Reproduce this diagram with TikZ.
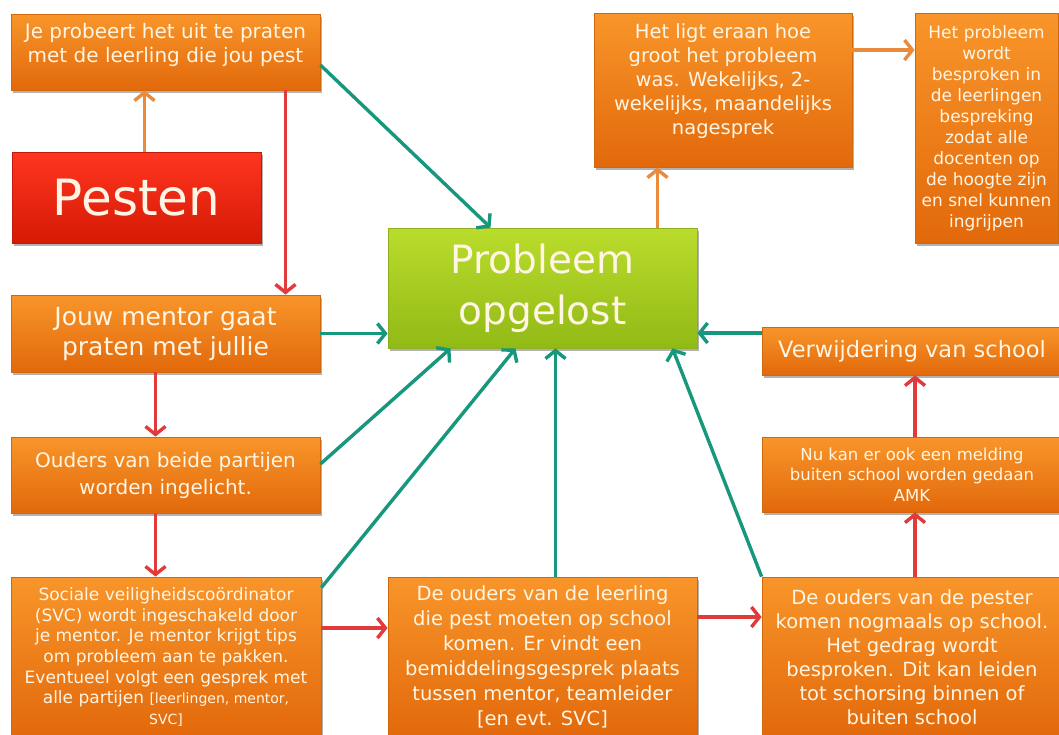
\documentclass[tikz,border=0pt]{standalone}
\usepackage{fontspec}
\setmainfont{DejaVu Sans}
\usetikzlibrary{arrows.meta,shadows}
\definecolor{otop}{HTML}{F8952A}
\definecolor{obot}{HTML}{E2690B}
\definecolor{oedge}{HTML}{D0680E}
\definecolor{gtop}{HTML}{BADC2C}
\definecolor{gbot}{HTML}{92BA16}
\definecolor{gedge}{HTML}{8CB020}
\definecolor{rtop}{HTML}{FF3520}
\definecolor{rbot}{HTML}{D51A05}
\definecolor{redge}{HTML}{C01A08}
\definecolor{txtc}{HTML}{FFF5E4}
\definecolor{teal}{HTML}{17977B}
\definecolor{rarr}{HTML}{E03A3A}
\definecolor{oarr}{HTML}{E98A3C}
\tikzset{
  basebox/.style={rectangle, inner sep=0pt, align=center, text=txtc, line width=0.8pt,
    drop shadow={shadow xshift=2pt, shadow yshift=-3pt, opacity=0.3, fill=black}},
  obox/.style={basebox, top color=otop, bottom color=obot, draw=oedge},
  gbox/.style={basebox, top color=gtop, bottom color=gbot, draw=gedge},
  rbox/.style={basebox, top color=rtop, bottom color=rbot, draw=redge},
  otext/.style={inner sep=0pt, align=center, text=txtc},
  conn/.style={line width=3.4pt, -{Straight Barb[length=8pt,width=20pt]}},
  tealarr/.style={conn, draw=teal},
  redarr/.style={conn, draw=rarr},
  orarr/.style={conn, draw=oarr}
}
\newcommand{\fs}[2]{\fontsize{#1}{#2}\selectfont}
\begin{document}
\begin{tikzpicture}[x=1pt,y=-1pt]
\useasboundingbox (0,0) rectangle (1059,734);
\fill[white] (0,0) rectangle (1059,734);

% boxes
\node[obox, minimum width=309pt, minimum height=76pt] (A) at (165.5,52) {};
\node[otext, font=\fs{20}{24}] (Atxt) at (165.5,45) {Je probeert het uit te praten\\met de leerling die jou pest};
\node[rbox, minimum width=249pt, minimum height=91pt, font=\fs{50}{54}] (P) at (136.5,197.5) {Pesten};
\node[obox, minimum width=309pt, minimum height=77pt, font=\fs{25}{30}] (B) at (165.5,333.5) {Jouw mentor gaat\\praten met jullie};
\node[obox, minimum width=309pt, minimum height=76pt, font=\fs{20}{27}] (C) at (165.5,475) {Ouders van beide partijen\\worden ingelicht.};
\node[obox, minimum width=310pt, minimum height=160pt, font=\fs{17}{20.7}] (D) at (166,657) {Sociale veiligheidscoördinator\\(SVC) wordt ingeschakeld door\\je mentor. Je mentor krijgt tips\\om probleem aan te pakken.\\Eventueel volgt een gesprek met\\alle partijen {\fs{14}{20.7}[leerlingen, mentor,}\\{\fs{14}{20.7}SVC]}};
\node[obox, minimum width=309pt, minimum height=160pt, font=\fs{19.5}{25}] (E) at (542.5,657) {De ouders van de leerling\\die pest moeten op school\\komen. Er vindt een\\bemiddelingsgesprek plaats\\tussen mentor, teamleider\\{[en evt. SVC]}};
\node[obox, minimum width=300pt, minimum height=160pt, font=\fs{19.5}{24}] (F) at (912,657) {De ouders van de pester\\komen nogmaals op school.\\Het gedrag wordt\\besproken. Dit kan leiden\\tot schorsing binnen of\\buiten school};
\node[obox, minimum width=300pt, minimum height=75pt, font=\fs{16.5}{20.5}] (G) at (912,474.5) {Nu kan er ook een melding\\buiten school worden gedaan\\AMK};
\node[obox, minimum width=300pt, minimum height=48pt, font=\fs{22.5}{26}] (H) at (912,351) {Verwijdering van school};
\node[gbox, minimum width=309pt, minimum height=120pt, font=\fs{39}{51}] (Gr) at (542.5,288) {Probleem\\opgelost};
\node[obox, minimum width=258pt, minimum height=154pt] (I) at (723,90) {};
\node[otext, font=\fs{19.5}{24}] (Itxt) at (723,81) {Het ligt eraan hoe\\groot het probleem\\was. Wekelijks, 2-\\wekelijks, maandelijks\\nagesprek};
\node[obox, minimum width=143pt, minimum height=230pt, font=\fs{17}{21}] (J) at (986.5,128) {Het probleem\\wordt\\besproken in\\de leerlingen\\bespreking\\zodat alle\\docenten op\\de hoogte zijn\\en snel kunnen\\ingrijpen};

% connectors
\draw[orarr] ([xshift=8pt]P.north) -- ([xshift=8pt]P.north |- A.south);
\draw[redarr] ([xshift=120pt]A.south) -- ([xshift=120pt]A.south |- B.north);
\draw[tealarr] ([yshift=-13pt]A.east) -- ([xshift=-52pt]Gr.north);
\draw[tealarr] (B.east) -- (B.east -| Gr.west);
\draw[redarr] ([xshift=-10pt]B.south) -- ([xshift=-10pt]B.south |- C.north);
\draw[tealarr] ([yshift=11pt]C.east) -- ([xshift=-92pt]Gr.south);
\draw[redarr] ([xshift=-10pt]C.south) -- ([xshift=-10pt]C.south |- D.north);
\draw[tealarr] ([yshift=-11pt]D.north east) -- ([xshift=-27pt]Gr.south);
\draw[redarr] ([yshift=29pt]D.east) -- ([yshift=29pt]D.east -| E.west);
\draw[tealarr] ([xshift=13pt]E.north) -- ([xshift=13pt]E.north |- Gr.south);
\draw[redarr] ([yshift=40pt]E.east) -- ([yshift=40pt]E.east -| F.west);
\draw[tealarr] (F.north west) -- ([xshift=130pt]Gr.south);
\draw[redarr] ([xshift=3pt]F.north) -- ([xshift=3pt]F.north |- G.south);
\draw[redarr] ([xshift=3pt]G.north) -- ([xshift=3pt]G.north |- H.south);
\draw[tealarr] ([yshift=18pt]H.west) -- ([yshift=18pt]H.west -| Gr.east);
\draw[orarr] ([xshift=115pt]Gr.north) -- ([xshift=115pt]Gr.north |- I.south);
\draw[orarr] ([yshift=40pt]I.east) -- ([yshift=40pt]I.east -| J.west);
\end{tikzpicture}
\end{document}
